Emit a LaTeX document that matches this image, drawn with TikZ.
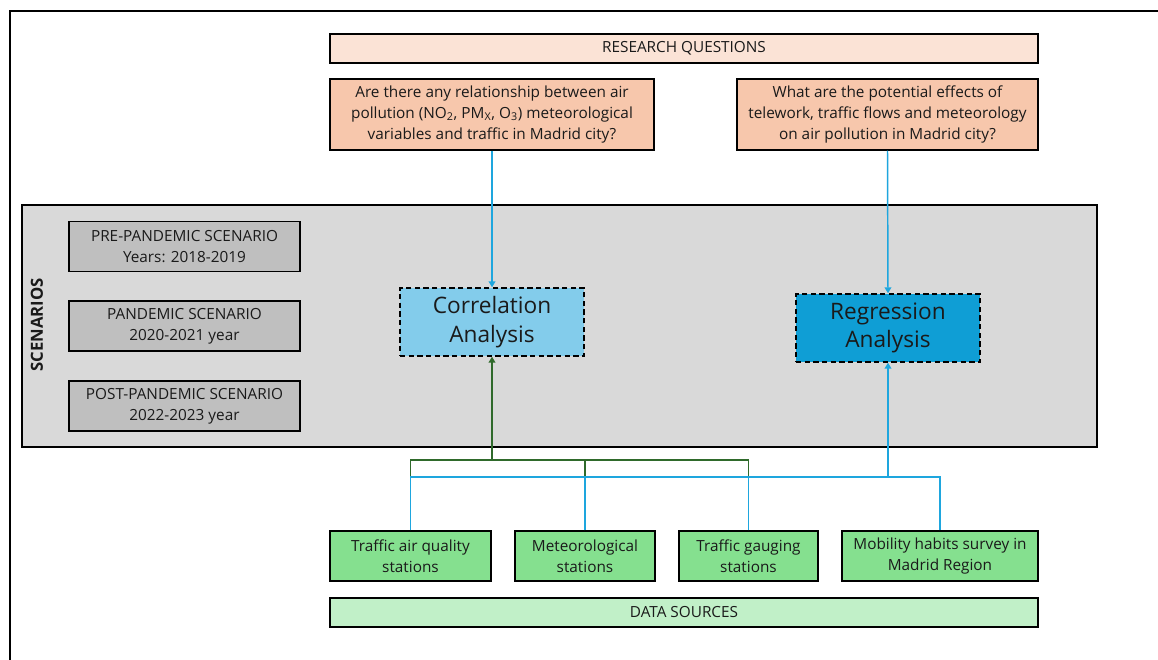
\documentclass[tikz,border=0pt]{standalone}
\usepackage{fontspec}
\setmainfont{Open Sans}
\usetikzlibrary{arrows.meta}
\definecolor{rqhead}{HTML}{FBE3D6}
\definecolor{rqbox}{HTML}{F7C7AC}
\definecolor{panel}{HTML}{D9D9D9}
\definecolor{scen}{HTML}{BFBFBF}
\definecolor{corrfill}{HTML}{83CCEB}
\definecolor{regfill}{HTML}{0F9ED5}
\definecolor{lineblue}{HTML}{1EA6DE}
\definecolor{linegreen}{HTML}{2F6A2B}
\definecolor{datafill}{HTML}{85E08F}
\definecolor{srcfill}{HTML}{C1F0C8}
\definecolor{txt}{HTML}{1A1A1A}
\tikzset{
  box/.style={draw=black, line width=0.9pt, rectangle, inner sep=1pt, align=center, text=txt, font=\fontsize{11.5}{15.75}\selectfont},
  analysis/.style={draw=black, line width=1pt, dashed, dash pattern=on 4pt off 2.5pt, rectangle, align=center, text=txt,
     minimum width=138pt, minimum height=51pt, font=\fontsize{17}{21.5}\selectfont},
  bluewire/.style={draw=lineblue, line width=1.1pt},
  greenwire/.style={draw=linegreen, line width=1.1pt},
  tip/.style={-{Triangle[width=5pt,length=4.5pt]}}
}
\begin{document}
\begin{tikzpicture}[x=0.75pt,y=-0.75pt]
\useasboundingbox (0,0) rectangle (1158,660);
\fill[white] (0,0) rectangle (1158,660);
\draw[line width=1.5pt] (10,660) -- (10,11) -- (1158,11);

% research questions
\node[box, fill=rqhead, minimum width=531pt, minimum height=21.75pt] (rq) at (684,48.5) {RESEARCH QUESTIONS};
\node[box, fill=rqbox, minimum width=243pt, minimum height=53.25pt] (q1) at (492,114.5)
  {Are there any relationship between air\\pollution (NO\textsubscript{2}, PM\textsubscript{X}, O\textsubscript{3}) meteorological\\variables and traffic in Madrid city?};
\node[box, fill=rqbox, minimum width=225.75pt, minimum height=53.25pt] (q2) at (887.5,114.5)
  {What are the potential effects of\\telework, traffic flows and meteorology\\on air pollution in Madrid city?};

% scenarios panel
\node[draw=black, line width=0.9pt, fill=panel, minimum width=806.25pt, minimum height=181.5pt, inner sep=0pt] (panel) at (559.5,326) {};
\node[rotate=90, font=\fontsize{12.5}{14}\selectfont\bfseries, text=txt] (scenlabel) at (37,325) {SCENARIOS};
\node[box, fill=scen, minimum width=173.25pt, minimum height=37.5pt] (pre) at (184.5,246.5) {PRE-PANDEMIC SCENARIO\\Years: 2018-2019};
\node[box, fill=scen, minimum width=173.25pt, minimum height=37.5pt] (pan) at (184.5,326) {PANDEMIC SCENARIO\\2020-2021 year};
\node[box, fill=scen, minimum width=173.25pt, minimum height=37.5pt] (post) at (184.5,406) {POST-PANDEMIC SCENARIO\\2022-2023 year};

\node[analysis, fill=corrfill] (corr) at (492,322) {Correlation\\Analysis};
\node[analysis, fill=regfill] (reg) at (888,328) {Regression\\Analysis};

% data sources
\node[box, fill=datafill, minimum width=120.75pt, minimum height=37.5pt] (taq) at (410.5,556) {Traffic air quality\\stations};
\node[box, fill=datafill, minimum width=105pt, minimum height=37.5pt] (met) at (585,556) {Meteorological\\stations};
\node[box, fill=datafill, minimum width=104.25pt, minimum height=37.5pt] (tg) at (748.5,556) {Traffic gauging\\stations};
\node[box, fill=datafill, minimum width=147pt, minimum height=37.5pt] (mob) at (940,556) {Mobility habits survey in\\Madrid Region};
\node[box, fill=srcfill, minimum width=531pt, minimum height=21.75pt] (ds) at (684,612.5) {DATA SOURCES};

% question arrows
\draw[bluewire, tip] (q1.south) -- (corr.north);
\draw[bluewire, tip] (q2.south) -- (reg.north);

% green connectors to correlation
\coordinate (cj) at (492,460);
\draw[greenwire] (taq.north) |- (cj);
\draw[greenwire] (met.north) |- (cj);
\draw[greenwire] (tg.north) |- (cj);
\draw[greenwire, tip] (cj) -- (corr.south);

% blue connectors to regression
\coordinate (rj) at (888,477);
\draw[bluewire] (taq.north) |- (rj);
\draw[bluewire] (met.north) |- (rj);
\draw[bluewire] (tg.north) |- (rj);
\draw[bluewire] (mob.north) |- (rj);
\draw[draw=lineblue, line width=1.8pt, tip] (rj) -- (reg.south);
\end{tikzpicture}
\end{document}
